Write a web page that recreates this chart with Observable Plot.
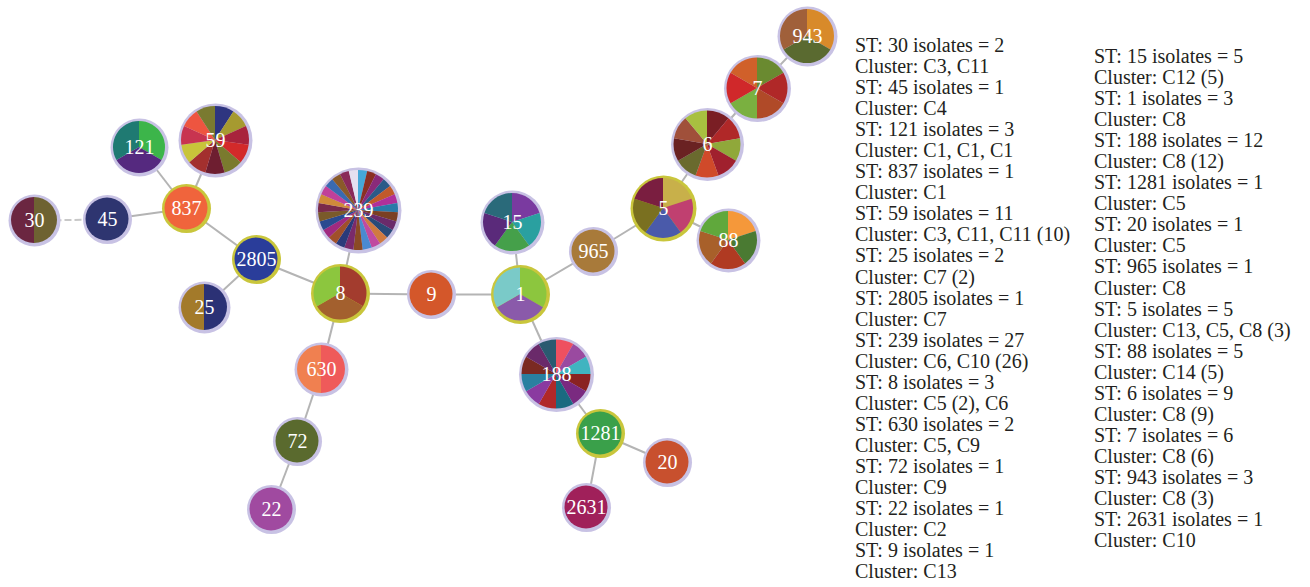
<!DOCTYPE html>
<html><head><meta charset="utf-8">
<script src="https://cdn.jsdelivr.net/npm/d3@7"></script>
<script src="https://cdn.jsdelivr.net/npm/@observablehq/plot@0.6"></script>
<style>
body{margin:0;background:#fff;width:1310px;height:587px;overflow:hidden;position:relative;font-family:"Liberation Serif",serif;}
#chart{position:absolute;left:0;top:0;}
.col{position:absolute;font-size:20px;line-height:21.05px;color:#231f20;white-space:nowrap;}
</style></head><body>
<div id="chart"></div>
<div class="col" id="c1" style="left:855px;top:35px"></div>
<div class="col" id="c2" style="left:1094px;top:46px"></div>
<script>
// ---- Data ----
const stNames = ["30","45","837","121","59","2805","25","8","239","9","1","15","965","188","1281","20","2631","5","88","6","7","943","630","72","22"];
const nodeX   = [34,107,186,139,215,256,204,340,358,431,520,512,593,556,600,667,586,663,728,707,757,807,321,297,271];
const nodeY   = [220,219,208,147,140,259,307,293,210,294,294,222,251,374,433,462,507,208,240,144,88,36,369,441,509];
const nodeR   = [26,24.5,24.5,29,37,24.5,26,29.5,43,24.5,29.5,32,24.5,37.5,24.5,24.5,24.5,33,32,36.5,33.5,30,27,24.5,24.5];
const founder = [false,false,true,false,false,true,false,true,false,false,true,false,false,false,true,false,false,true,false,false,false,false,false,false,false];
const nodeSlices = [
  ["#6e6232","#6b2641"],
  ["#2e3570"],
  ["#f0643c"],
  ["#3cb54a","#55297f","#1f7a72"],
  ["#2e3580","#a69a30","#a8233c","#d32a2a","#7a7a2e","#6e1e30","#a3302e","#c8c43a","#c83450","#ee5540","#7a7a30"],
  ["#2a3d9a"],
  ["#2b3175","#a37a2a"],
  ["#a33c2e","#a3602e","#8cc63e"],
  ["#45a8d8","#8a3024","#8a2a7a","#2a5a88","#c05a2a","#b0309a","#2a7aa8","#7a4024","#6a2a6a","#2a4a78","#d07a40","#c04aa0","#4a8ad0","#8a4a24","#7a2a6a","#2a3a7a","#a0502a","#a02a80","#2a4a90","#7a5a2a","#7a2a4a","#d08a3a","#c0409a","#3a6ab0","#8a5a2a","#8a2a5a","#e4e0f0"],
  ["#d4572a"],
  ["#8cc63e","#8a5aaa","#7acac8"],
  ["#7a3aa0","#2aa0a0","#45a04a","#5a2a7a","#2a6a7a"],
  ["#a87a3a"],
  ["#ee5060","#9a4aa0","#40b4c0","#8a2222","#7a2a80","#1a6a80","#b02828","#8a3aa0","#2a80a0","#7a2a22","#6a2a6a","#2a5a70"],
  ["#3aa04a"],
  ["#c8502e"],
  ["#a0205a"],
  ["#c8b04a","#c04070","#4a5aaa","#7a7020","#7a1e40"],
  ["#f5983a","#4a7a32","#b03a22","#a8602a","#60a83c"],
  ["#7a1e24","#b02828","#90a83a","#a0202e","#d04a2a","#6a6a2e","#6a2222","#a0503a","#a8c040"],
  ["#6a8a30","#b02828","#b04a28","#7ab040","#d0282a","#d0602a"],
  ["#d88a2a","#5a6a30","#a0603a"],
  ["#ef5a5a","#f08050"],
  ["#5a6a2e"],
  ["#a04aa0"]
];
const edgeFrom = ["30","45","837","837","837","2805","2805","8","8","8","630","72","9","1","1","1","188","1281","1281","965","5","5","6","7"];
const edgeTo   = ["45","837","121","59","2805","25","8","239","630","9","72","22","1","15","965","188","1281","20","2631","5","88","6","7","943"];

const legendST1 = ["30","45","121","837","59","25","2805","239","8","630","72","22","9"];
const legendIso1 = [2,1,3,1,11,2,1,27,3,2,1,1,1];
const legendCl1 = ["C3, C11","C4","C1, C1, C1","C1","C3, C11, C11 (10)","C7 (2)","C7","C6, C10 (26)","C5 (2), C6","C5, C9","C9","C2","C13"];
const legendST2 = ["15","1","188","1281","20","965","5","88","6","7","943","2631"];
const legendIso2 = [5,3,12,1,1,1,5,5,9,6,3,1];
const legendCl2 = ["C12 (5)","C8","C8 (12)","C5","C5","C8","C13, C5, C8 (3)","C14 (5)","C8 (9)","C8 (6)","C8 (3)","C10"];

// ---- Build ----
const idx = d3.range(stNames.length);
const pos = new Map(stNames.map((s, i) => [s, i]));
const edges = edgeFrom.map((f, k) => ({f: pos.get(f), t: pos.get(edgeTo[k]), dashed: f === "30"}));
const BORDER = 3;

function pieRender(index, scales, values) {
  const g = d3.create("svg:g");
  for (const i of index) {
    const r = nodeR[i] - BORDER;
    const arcs = d3.pie().sort(null).value(1)(nodeSlices[i]);
    const arc = d3.arc().innerRadius(0).outerRadius(r);
    g.append("g")
      .attr("transform", `translate(${values.x[i]},${values.y[i]})`)
      .selectAll("path").data(arcs).join("path")
      .attr("d", arc).attr("fill", d => d.data);
  }
  return g.node();
}

const chart = Plot.plot({
  width: 845, height: 587,
  margin: 0,
  x: {domain: [0, 845], range: [0, 845], axis: null},
  y: {domain: [0, 587], range: [0, 587], axis: null},
  r: {type: "identity"},
  marks: [
    Plot.link(edges.filter(e => !e.dashed), {
      x1: e => nodeX[e.f], y1: e => nodeY[e.f], x2: e => nodeX[e.t], y2: e => nodeY[e.t],
      stroke: "#b4b4b4", strokeWidth: 2
    }),
    Plot.link(edges.filter(e => e.dashed), {
      x1: e => nodeX[e.f], y1: e => nodeY[e.f], x2: e => nodeX[e.t], y2: e => nodeY[e.t],
      stroke: "#c8c8c8", strokeWidth: 2, strokeDasharray: "7,3"
    }),
    Plot.dot(idx, {
      x: i => nodeX[i], y: i => nodeY[i], r: i => nodeR[i],
      fill: i => founder[i] ? "#c9c63c" : "#c8c2e4", stroke: "none"
    }),
    Plot.dot(idx, {
      x: i => nodeX[i], y: i => nodeY[i], r: i => nodeR[i] - BORDER,
      render: pieRender
    }),
    Plot.text(idx, {
      x: i => nodeX[i], y: i => nodeY[i], text: i => stNames[i],
      fill: "white", fontSize: 20, fontFamily: "Liberation Serif"
    })
  ]
});
document.getElementById("chart").appendChild(chart);

function fillCol(id, st, iso, cl) {
  const el = document.getElementById(id);
  st.forEach((s, k) => {
    const a = document.createElement("div");
    a.textContent = `ST: ${s} isolates = ${iso[k]}`;
    const b = document.createElement("div");
    b.textContent = `Cluster: ${cl[k]}`;
    el.appendChild(a); el.appendChild(b);
  });
}
fillCol("c1", legendST1, legendIso1, legendCl1);
fillCol("c2", legendST2, legendIso2, legendCl2);
</script></body></html>
